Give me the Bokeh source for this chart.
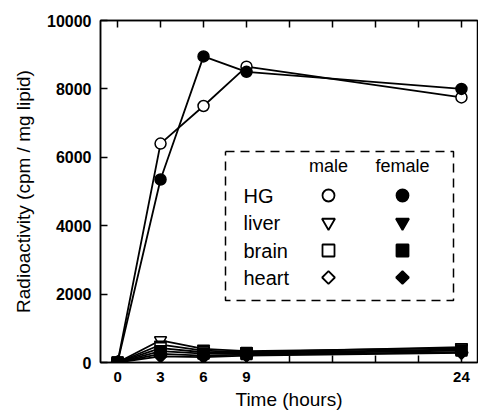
import math
from bokeh.plotting import figure
from bokeh.models import Range1d, LinearAxis, FixedTicker, Label
from bokeh.embed import file_html
from bokeh.resources import INLINE

# ---- data ----
hours = [0, 3, 6, 9, 24]
hg_male = [0, 6400, 7500, 8650, 7750]
hg_female = [0, 5350, 8950, 8500, 8000]
liver_male = [0, 650, 400, 330, 420]
liver_female = [0, 520, 350, 300, 450]
brain_male = [0, 420, 300, 280, 380]
brain_female = [0, 330, 260, 250, 350]
heart_male = [0, 250, 200, 230, 300]
heart_female = [0, 180, 160, 200, 280]
x_ticks = [0, 3, 6, 9, 12, 15, 18, 21, 24]
x_tick_labels = {0: "0", 3: "3", 6: "6", 9: "9", 12: "", 15: "", 18: "", 21: "", 24: "24"}
y_ticks = [0, 2000, 4000, 6000, 8000, 10000]
tissues = ["HG", "liver", "brain", "heart"]
sexes = ["male", "female"]

FONT = "Liberation Sans"
XMIN, XMAX = -1.19, 25.12
LW = 1.8

p = figure(width=478, height=420, output_backend="svg", toolbar_location=None,
           x_range=Range1d(XMIN, XMAX), y_range=Range1d(0, 10000),
           min_border_left=100, min_border_right=1, min_border_top=20, min_border_bottom=58,
           background_fill_color="white", border_fill_color="white")
p.grid.visible = False
p.outline_line_color = "black"
p.outline_line_width = 1.5

# axes
xa = p.xaxis[0]
xa.ticker = FixedTicker(ticks=x_ticks)
xa.major_label_overrides = {k: v for k, v in x_tick_labels.items()}
xa.major_tick_in = 7
xa.major_tick_out = 0
xa.minor_tick_in = 0
xa.minor_tick_out = 0
xa.major_label_standoff = 9
xa.axis_label = "Time (hours)"
xa.axis_label_standoff = 4
xa.axis_label_text_font = FONT
xa.axis_label_text_font_style = "normal"
xa.axis_label_text_font_size = "19px"
xa.axis_label_text_color = "black"
xa.major_label_text_font = FONT
xa.major_label_text_font_style = "bold"
xa.major_label_text_font_size = "15px"
xa.major_label_text_color = "black"
xa.axis_line_width = 1.5
xa.major_tick_line_width = 1.5

ya = p.yaxis[0]
ya.ticker = FixedTicker(ticks=y_ticks)
ya.major_tick_in = 7
ya.major_tick_out = 0
ya.minor_tick_in = 0
ya.minor_tick_out = 0
ya.major_label_standoff = 9
ya.axis_label = "Radioactivity (cpm / mg lipid)"
ya.axis_label_standoff = 10
ya.axis_label_text_font = FONT
ya.axis_label_text_font_style = "normal"
ya.axis_label_text_font_size = "19px"
ya.axis_label_text_color = "black"
ya.major_label_text_font = FONT
ya.major_label_text_font_style = "bold"
ya.major_label_text_font_size = "16px"
ya.major_label_text_color = "black"
ya.axis_line_width = 1.5
ya.major_tick_line_width = 1.5

top = LinearAxis(ticker=FixedTicker(ticks=x_ticks), major_tick_in=7, major_tick_out=0,
                 minor_tick_in=0, minor_tick_out=0, major_label_text_font_size="0px",
                 major_label_standoff=0, axis_line_width=1.5, major_tick_line_width=1.5)
p.add_layout(top, "above")

# marker styles: (marker, size, angle)
STYLE = {
    "HG": ("circle", 11, 0.0),
    "liver": ("inverted_triangle", 12, 0.0),
    "brain": ("square", 11, 0.0),
    "heart": ("square", 9, math.pi / 4),
}

def series(y, filled, tissue):
    m, s, a = STYLE[tissue]
    p.line(hours, y, line_color="black", line_width=LW)
    p.scatter(hours, y, marker=m, size=s, angle=a, line_color="black", line_width=1.5,
              fill_color="black" if filled else "white")

series(heart_male, False, "heart")
series(heart_female, True, "heart")
series(liver_male, False, "liver")
series(liver_female, True, "liver")
series(brain_male, False, "brain")
series(brain_female, True, "brain")
series(hg_male, False, "HG")
series(hg_female, True, "HG")

# ---- legend (pixel positions converted to data coords) ----
fx0, fx1 = 100, 477
fy0, fy1 = 20, 362
def dx(px):
    return XMIN + (px - fx0) / (fx1 - fx0) * (XMAX - XMIN)
def dy(py):
    return (fy1 - py) / (fy1 - fy0) * 10000

bx0, bx1, by0, by1 = dx(225), dx(453), dy(151), dy(300)
p.line([bx0, bx1, bx1, bx0, bx0], [by0, by0, by1, by1, by0], line_color="black",
       line_width=1.5, line_dash="9 6")

for s, px in zip(sexes, [328, 402]):
    p.add_layout(Label(x=dx(px), y=dy(165), text=s, text_align="center", text_baseline="middle",
                       text_font=FONT, text_font_size="18px", text_color="black"))
rows_py = [195, 222, 250, 277]
for t, py in zip(tissues, rows_py):
    m, s, a = STYLE[t]
    s = s + 1 if t != "heart" else s
    p.add_layout(Label(x=dx(243), y=dy(py), text=t, text_align="left", text_baseline="middle",
                       text_font=FONT, text_font_size="20px", text_color="black"))
    p.scatter([dx(328)], [dy(py)], marker=m, size=s, angle=a, line_color="black", line_width=1.8,
              fill_color="white")
    p.scatter([dx(402)], [dy(py)], marker=m, size=s, angle=a, line_color="black", line_width=1.8,
              fill_color="black")

open("out.html", "w").write(file_html(p, INLINE))
